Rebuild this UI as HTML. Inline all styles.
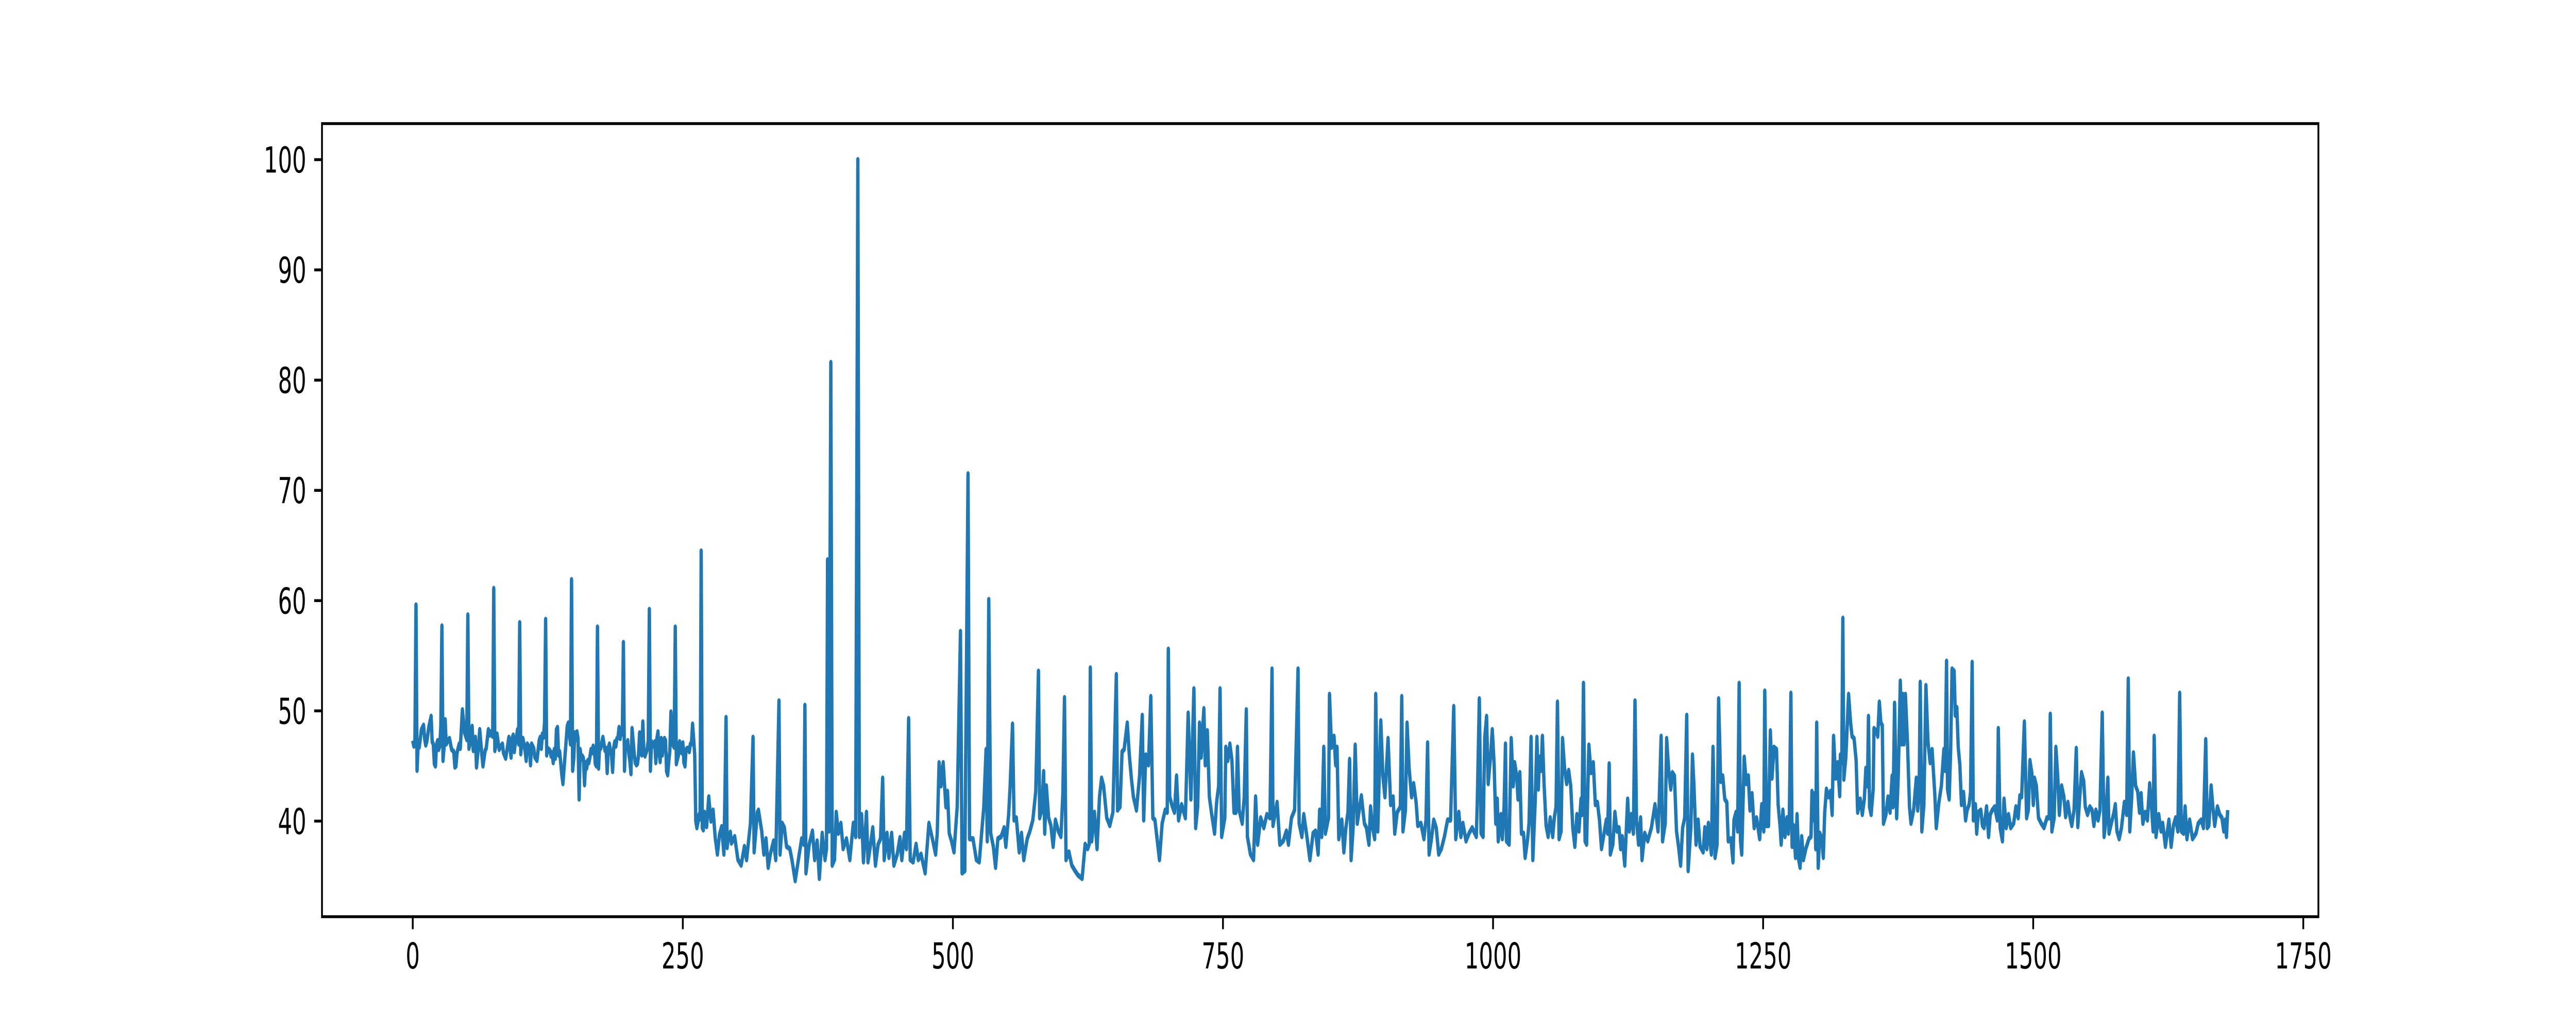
<!DOCTYPE html>
<html><head><meta charset="utf-8"><style>
html,body{margin:0;padding:0;background:#fff;overflow:hidden;width:100%;height:100%;}
svg{display:block;width:100vw;height:100vh;}
text{font-family:"DejaVu Sans","Liberation Sans",sans-serif;font-size:69.4px;fill:#000;}
</style></head>
<body>
<svg id="chart" viewBox="0 0 8000 2000" preserveAspectRatio="none" xmlns="http://www.w3.org/2000/svg">
<rect x="0" y="0" width="8000" height="2000" fill="#fff"/>
<g id="plot"></g>
<g id="xaxis"></g>
<g id="yaxis"></g>
<rect x="1000" y="240" width="6200" height="1540" fill="none" stroke="#000" stroke-width="5.56"/>
</svg>
<script>
const xTicks = [0,250,500,750,1000,1250,1500,1750];
const yTicks = [40,50,60,70,80,90,100];
const seriesX = [0,1,2,3,4,5,6,8,10,11,12,13,15,17,18,19,20,21,22,23,24,25,26,27,28,29,30,31,32,34,35,36,38,39,40,41,43,44,46,48,50,51,52,53,55,56,58,59,61,62,64,65,67,68,70,71,72,73,74,75,76,77,78,80,81,83,84,86,87,89,90,91,92,93,94,95,96,97,98,99,100,101,102,104,105,106,108,109,110,112,113,115,117,118,119,120,121,122,123,124,125,127,128,129,130,131,132,133,134,135,136,138,139,141,143,144,146,147,148,149,150,151,152,153,154,155,156,157,158,159,160,161,162,163,164,165,166,167,168,169,170,171,172,173,174,175,176,178,179,180,181,182,183,184,185,186,187,188,189,190,191,192,193,194,195,196,197,198,199,200,201,202,203,204,205,206,207,208,209,210,211,212,213,214,215,216,217,218,219,220,221,222,223,224,225,226,227,228,229,230,231,232,233,234,235,236,237,238,239,240,241,242,243,244,245,246,247,248,249,250,251,252,253,254,255,256,257,258,259,260,261,262,263,264,265,266,267,268,269,270,272,274,276,278,280,282,284,286,288,289,290,291,292,294,
295,298,301,304,307,309,312.6,315,316,319,320,323,325,327,329,331,334,336,339,340,342,344,346,349,351,354,357,360,362,363,364,367,370,372,374.3,376.4,379,381.6,383,384,385.4,387,388.3,390.4,392,394,396.3,398.4,401.5,404.6,407.8,410,412,413.4,415.5,417.2,420,421.4,423.5,425.8,428.3,430.8,433,435,436.4,439,440.8,443.3,445.4,448.5,451,452.7,455.2,457,459,460.5,463.2,465.9,468,470.5,474.3,477.8,481,484,485.5,487.2,489,491,493.5,495,496.6,498.7,501,504,507,508.5,511,514,515.4,518.6,521.7,524.4,527,528.6,530.7,531.8,533.2,535,537.4,539.5,541.6,544.7,547.4,549,551.6,553,555.2,556.6,558.7,561.4,563.5,565.6,568.8,571.3,574,576.7,579.2,580.3,582.3,584,585,586.5,588.6,590.7,592.8,594.9,597.6,600,601.8,603.3,604.7,607.4,610,613,615.8,619.6,622.4,624.7,626.2,627.2,628.5,631,633.4,635.7,637.6,639.5,642.4,645.2,648.1,651.3,652.4,654.7,656.6,658.5,661.4,663.3,665.2,667.1,669.9,672.8,675.3,676.6,678.5,681,683.2,685.1,687,689,691.2,693.7,696.5,698.4,699.4,700.7,703.2,705.1,707,708.9,711.7,715.2,717.8,720.3,723.1,724.7,726.6,728.3,729.8,732.3,733.6,735.5,737.4,739.3,742.2,744.1,746,747.3,748.8,751.7,752.6,754.5,756.4,758.3,760.2,762.1,763.4,765,767.8,769.7,771.6,772.6,775.4,778.3,780.2,782.1,784.9,787.8,790.6,793.5,795.4,796.3,800.1,802.6,805.8,808.7,810.6,813.4,816.3,819.5,820.5,823,824.8,827.7,830.5,833.4,835.7,838.1,839.5,841.4,843.3,844.8,847.7,848.6,850.5,852.8,854.3,855.6,857.2,860,861.9,863.8,865.7,867.2,868.6,870.5,872.4,874.3,878.1,880.9,882.8,885.1,886.6,888.5,890.4,891.4,893.3,896.1,898,
899.9,902.8,905.2,907.5,909,911.3,914.2,915.5,916.6,918.9,920.4,922.3,924.6,926.5,928.8,930.3,933.2,936,937.9,939.4,940.8,942.7,945.1,947.4,949.7,952.2,955,957.9,960.7,963.6,965.5,968.3,970.2,972.1,975,977.8,980.7,984.5,985.4,987.3,988.9,990.8,992.3,994,995.5,997.8,999.3,1001,1002.5,1003.9,1004.8,1007.3,1008.6,1010.2,1011.5,1012.4,1014.9,1016.8,1018.7,1020,1021.9,1023.1,1024.8,1026.3,1028.2,1029.7,1032,1033.3,1035.2,1036.8,1039,1040.6,1041.9,1043,1044.4,1045.7,1047.2,1049.1,1051,1052.9,1055.2,1056.7,1058.3,1059.6,1061.1,1063,1064.3,1066.2,1068.1,1070,1071.9,1073.8,1075.7,1077.6,1079.5,1081.4,1082.4,1083.7,1085.2,1086.6,1088.7,1090.6,1092.8,1094.7,1096.6,1098.5,1100.4,1102.3,1104.8,1106.1,1107.5,1108.6,1110.9,1112.8,1114.7,1116.6,1118.1,1119.6,1121.9,1124.6,1126.1,1128,1129.9,1131.4,1132.8,1134.7,1136.6,1137.9,1140.4,1143.2,1146.6,1149.9,1152.7,1153.7,1155.6,1156.9,1159.4,1160.7,1162.6,1164.5,1166,1167.9,1169.8,1171.7,1173.6,1175.5,1177.4,1179.3,1180.6,
1183.1,1184.6,1186,1187.9,1189.8,1191.7,1194.5,1196,1197.9,1199.3,1202.1,1203.6,1205.5,1207.4,1208.8,1210.7,1212.6,1214.5,1216.4,1217.7,1220.2,1222.1,1223,1224.9,1226.4,1227.8,1229.1,1230.2,1232.5,1234.4,1236.3,1237.8,1239.7,1241.7,1243.9,1246.8,1248.7,1250.6,1251.5,1253.1,1255,1256.7,1258.2,1260.1,1262.4,1263.9,1265.8,1266.7,1268.3,1270.2,1272.1,1273.4,1274.3,1275.7,1276.8,1278.1,1280,1281.4,1282.9,1284.2,1285.7,1287.3,1289.5,1292.4,1294.3,1295.2,1296.8,1297.7,1298.7,1299.6,1301,1302.5,1304.4,1305.7,1307,1308.6,1310.5,1312.4,1313.9,1315.2,1317.1,1319,1320.9,1321.5,1322.8,1323.8,1324.7,1326.6,1329.1,1331,1332.3,1334.2,1336.1,1337.5,1339.9,1341.8,1343.7,1345.1,1346.6,1347.5,1348.5,1350,1351.9,1352.6,1354.6,1356.1,1357.6,1359,1360.3,1361.4,1363.7,1365.6,1367.5,1369.4,1370.3,1371.7,1373.6,1375.1,1377,1378.3,1379.3,1380.4,1381.7,1383.6,1385.5,1386.9,1389.3,1391.8,1393.1,1394.5,1395.4,1396.9,1398.8,1400.7,1402.6,1404.6,1406.4,1408.9,1410.3,1412.7,1415,1417.3,1418.4,1419.8,1420.7,1422.2,1423.6,1424.9,1426.8,1427.9,1429.3,1430.6,1432.1,1433.6,1435.5,1437.4,1438.8,1440.7,1442,1443.5,1444.6,1446.5,1447.7,1449.2,1451.5,1453,1454.5,1456.8,1458.7,1460.2,1462.1,1464.4,
1466.7,1467.7,1469.4,1471.5,1473,1475,1477.1,1479.2,1481.9,1484,1486.1,1487.6,1489.3,1491.8,1493.9,1495.5,1497,1498.7,1500.1,1501.2,1502.9,1504.9,1507.4,1510,1512.7,1514.8,1515.8,1517.3,1519.4,1521,1522.7,1524.2,1526.3,1528.4,1530,1532.1,1534.2,1535.7,1537.8,1539.9,1541.3,1543,1544.7,1546.8,1548.2,1550.3,1552.4,1554.5,1556.2,1558,1560.1,1561.8,1563.9,1565.6,1567,1569.1,1570.2,1572.3,1574.8,1576,1577.5,1579.6,1581.7,1584.4,1586.5,1588,1589.4,1591.1,1592.8,1594.8,1596.7,1598.4,1599.9,1601.5,1603.6,1605.7,1607.8,1609.5,1611,1612,1613.7,1616.2,1618.3,1619.9,1622.4,1625.6,1627.7,1629.8,1631.8,1633.9,1635.6,1637.1,1639.2,1640.6,1642.3,1644.8,1647.5,1650.7,1652.8,1655.5,1657.6,1659.7,1661.1,1662.6,1664.7,1666.3,1668,1670.5,1672.6,1674.7,1676.4,1677.8,1678.9,1680];
const seriesY = [47.3,46.8,46.9,59.6,44.6,47.0,46.7,48.3,48.7,47.5,46.9,47.2,48.6,49.5,47.2,47.0,45.2,45.0,46.9,47.3,46.5,46.8,48.6,57.7,45.5,46.7,49.2,47.0,47.2,47.5,47.0,46.5,46.3,44.9,45.0,46.2,47.0,46.6,50.1,48.0,47.4,58.7,46.6,47.0,48.6,46.4,47.6,44.9,46.9,48.3,46.0,45.0,46.4,46.6,48.3,47.8,48.1,47.8,47.7,61.1,46.4,46.9,47.9,46.5,46.7,47.0,46.2,45.7,46.3,47.6,46.7,45.8,47.5,47.8,46.3,47.2,47.6,48.3,47.0,58.0,46.1,47.2,47.5,46.4,45.5,47.0,46.7,45.1,47.0,46.6,45.8,45.5,47.3,47.6,46.6,47.9,47.6,48.9,58.3,46.0,46.6,46.4,45.9,46.2,45.3,46.5,45.7,48.3,48.5,46.0,46.3,44.2,43.4,46.0,48.6,48.9,47.0,61.9,44.6,45.6,48.0,47.4,48.1,47.5,42.0,46.5,45.6,45.9,45.7,43.3,45.3,44.8,45.5,45.3,45.8,46.5,46.2,46.8,46.6,45.2,45.0,57.6,44.8,46.9,46.6,47.1,47.6,46.4,46.6,44.4,46.6,47.0,46.4,46.0,44.5,46.6,47.2,46.8,47.5,47.6,48.5,47.5,48.1,47.9,56.2,44.6,47.0,46.9,47.3,46.2,45.4,44.3,48.4,47.3,46.1,45.3,45.1,45.2,46.0,48.0,47.1,46.0,49.0,46.2,45.9,46.2,46.5,47.3,59.2,44.6,47.2,46.8,46.8,47.2,45.3,47.5,48.1,46.2,45.4,47.5,46.0,46.9,47.5,47.3,44.5,44.2,45.4,46.4,49.9,47.7,46.9,46.7,57.6,45.2,45.6,46.0,47.2,46.8,46.2,47.1,45.3,45.0,46.5,46.6,46.6,46.3,47.0,47.0,48.8,47.5,46.0,40.0,39.4,39.9,40.6,40.2,64.5,39.4,39.2,40.8,39.5,42.2,40.0,41.0,38.5,37.0,38.8,39.5,37.0,42.5,49.4,37.6,38.5,39.0,
38.0,38.6,36.5,36.0,37.7,36.5,39.8,47.6,37.2,40.8,41.0,39.1,37.0,38.4,35.8,37.0,38.2,36.5,50.9,37.0,39.8,39.4,37.7,37.5,36.5,34.6,36.5,38.4,37.9,50.5,35.3,37.9,39.1,36.5,38.2,34.8,38.9,36.5,37.5,63.7,39.1,81.6,36.0,36.5,40.8,38.9,39.8,37.5,38.4,36.5,39.8,38.6,100.0,38.6,40.6,36.3,40.8,36.3,37.7,39.4,36.0,37.9,38.4,43.9,36.5,38.9,36.7,38.9,36.0,37.0,38.5,36.5,38.9,37.5,49.3,36.5,36.3,37.9,36.5,37.0,35.3,39.8,38.4,37.0,38.9,45.3,43.2,45.3,41.3,42.7,38.9,38.2,37.2,41.3,57.2,35.3,35.5,71.5,38.4,38.4,36.5,36.3,39.4,41.3,46.5,38.2,60.1,38.9,37.7,35.8,38.4,38.6,39.4,37.7,40.6,43.2,48.8,40.1,40.3,37.2,38.9,36.5,38.4,39.1,40.1,42.7,53.6,40.3,41.0,44.5,38.9,43.2,40.3,39.6,37.7,40.1,39.1,38.6,42.5,51.2,36.5,37.2,36.0,35.5,35.1,34.8,37.9,37.5,37.9,53.9,38.2,40.8,37.5,42.2,43.9,43.2,40.3,39.6,40.8,53.3,41.0,41.3,46.3,46.5,48.9,46.0,43.9,42.2,41.0,44.1,49.6,40.1,46.0,45.1,51.3,40.3,40.1,38.4,36.5,39.8,41.0,40.8,55.6,42.2,41.3,40.8,44.1,40.1,41.5,40.3,49.8,42.0,52.0,39.4,41.3,48.9,45.8,50.2,45.1,48.2,42.2,40.8,38.9,41.7,43.2,52.0,38.6,40.3,46.7,45.5,47.0,45.5,40.8,40.8,46.7,41.0,39.8,42.2,50.1,38.6,37.0,36.5,42.2,37.9,40.3,39.4,40.6,40.3,53.8,39.6,41.7,37.9,38.2,39.1,37.9,40.3,41.0,53.8,39.8,38.6,40.6,38.6,36.5,38.9,39.1,37.0,41.0,38.6,46.7,38.9,40.3,51.5,46.7,47.7,45.1,46.7,38.4,40.1,37.2,39.4,40.8,45.6,36.5,39.4,46.9,39.8,42.3,39.8,39.4,37.9,41.3,39.4,38.4,51.5,39.1,49.1,44.1,
42.2,47.5,41.5,42.2,38.9,40.8,41.3,51.3,39.1,41.0,48.9,44.8,42.2,43.4,41.7,39.6,39.8,38.4,40.1,47.1,37.0,38.2,40.1,39.4,37.0,37.5,38.6,40.1,40.1,50.4,38.4,40.8,38.6,39.8,38.2,38.9,39.4,38.6,41.7,51.1,38.9,38.6,47.6,49.5,43.4,46.0,48.3,45.1,39.8,42.0,38.2,40.6,38.4,41.3,47.0,38.2,37.9,47.5,43.2,45.3,44.1,42.0,44.4,38.9,38.9,36.7,38.4,39.8,47.6,36.5,41.7,47.6,42.9,45.8,44.6,47.7,43.4,39.6,38.6,40.3,38.6,40.3,41.3,50.8,38.4,39.1,47.5,44.8,43.4,44.6,43.2,39.4,37.7,40.6,39.1,42.0,40.6,52.5,38.2,37.9,46.9,44.4,45.3,41.5,41.7,40.1,37.5,38.6,40.1,38.9,45.2,37.0,37.9,40.8,39.1,39.4,37.5,38.6,36.0,42.0,39.1,40.6,38.9,50.9,40.1,37.9,40.3,36.5,38.9,38.2,39.4,41.5,39.1,41.5,47.7,38.2,39.8,47.5,44.6,42.9,44.4,44.1,39.1,37.7,36.0,39.4,40.3,49.6,35.5,
39.4,46.0,43.2,37.9,40.1,37.7,37.2,39.4,37.5,39.8,37.0,46.7,36.7,37.9,51.1,43.6,44.1,42.0,41.7,38.2,38.4,36.3,40.1,40.8,39.1,52.5,38.2,37.0,45.8,43.4,44.1,41.0,42.5,39.4,40.3,38.4,41.5,39.1,51.8,39.6,39.6,48.2,43.9,46.7,46.5,41.5,39.4,37.9,41.0,38.6,40.3,38.9,40.8,51.6,37.7,39.6,36.7,40.6,36.5,35.8,38.6,36.5,37.5,38.4,38.6,42.7,40.1,42.5,37.5,48.9,35.8,38.9,38.4,36.7,40.8,42.9,42.2,42.7,40.6,47.7,43.9,45.3,42.3,46.0,45.3,58.4,43.8,45.8,51.5,48.9,47.7,47.5,45.5,40.8,42.0,40.6,42.0,44.8,43.2,49.5,41.3,40.6,42.9,48.4,48.2,47.7,50.8,48.9,48.7,39.8,40.6,42.2,40.8,44.1,41.3,50.7,40.3,44.1,52.7,47.0,51.5,47.0,51.5,47.2,41.3,39.8,41.0,43.9,41.0,43.2,52.6,39.1,41.5,52.3,47.2,45.3,46.5,42.5,39.4,41.7,43.2,46.5,44.6,54.5,42.9,42.0,46.5,53.8,53.6,49.6,50.3,46.7,45.1,41.5,42.6,40.1,41.0,41.5,42.6,54.4,40.1,41.5,38.9,40.8,41.0,39.6,39.4,41.3,38.6,40.6,41.0,41.3,
40.1,48.4,39.4,38.2,42.0,39.4,40.6,39.4,39.8,41.3,40.3,42.3,42.2,49.0,40.3,41.0,45.5,44.4,41.5,43.9,43.2,40.3,39.8,39.4,40.3,40.3,49.7,39.1,40.3,46.7,44.1,40.6,43.2,42.2,40.4,41.7,40.3,39.6,41.0,46.6,39.5,42.0,44.4,43.6,41.3,40.6,41.3,41.0,39.6,41.0,40.1,41.0,49.8,38.6,39.8,43.9,38.9,39.8,40.8,41.5,39.1,38.4,39.4,41.7,40.6,52.9,39.1,42.0,46.2,43.2,42.7,40.8,42.5,39.8,40.8,40.1,43.4,41.3,39.1,47.7,38.6,40.6,39.1,39.8,37.7,40.1,37.7,39.6,40.3,39.1,51.6,39.1,38.9,41.3,38.4,40.1,38.4,38.9,39.8,40.1,39.4,47.4,39.4,39.6,43.2,41.3,39.6,41.3,40.6,40.3,39.1,40.1,38.6,41.0];

const X0 = 1000, X1 = 7200, Y0 = 1780, Y1 = 240;
const xMin = -84, xMax = 1764, yMin = 31.33, yMax = 103.27;
function sx(v){ return X0 + (v - xMin) / (xMax - xMin) * (X1 - X0); }
function sy(v){ return Y0 - (v - yMin) / (yMax - yMin) * (Y0 - Y1); }
const NS = 'http://www.w3.org/2000/svg';
const plot = document.getElementById('plot');
const n = Math.min(seriesX.length, seriesY.length);
let d = '';
for (let i = 0; i < n; i++) {
  d += (i ? 'L' : 'M') + sx(seriesX[i]).toFixed(1) + ' ' + sy(seriesY[i]).toFixed(1);
}
const path = document.createElementNS(NS, 'path');
path.setAttribute('d', d);
path.setAttribute('fill', 'none');
path.setAttribute('stroke', '#1f77b4');
path.setAttribute('stroke-width', '10.4');
path.setAttribute('stroke-linejoin', 'round');


plot.appendChild(path);

const xa = document.getElementById('xaxis');
xTicks.forEach(t => {
  const x = sx(t);
  const ln = document.createElementNS(NS, 'line');
  ln.setAttribute('x1', x); ln.setAttribute('x2', x);
  ln.setAttribute('y1', Y0); ln.setAttribute('y2', Y0 + 24.3);
  ln.setAttribute('stroke', '#000'); ln.setAttribute('stroke-width', '5.56');
  
  
  xa.appendChild(ln);
  const tx = document.createElementNS(NS, 'text');
  tx.setAttribute('x', x); tx.setAttribute('y', Y0 + 48.6 + 52);
  tx.setAttribute('text-anchor', 'middle');
  tx.textContent = String(t);
  
  
  xa.appendChild(tx);
});
const ya = document.getElementById('yaxis');
yTicks.forEach(t => {
  const y = sy(t);
  const ln = document.createElementNS(NS, 'line');
  ln.setAttribute('x1', X0 - 24.3); ln.setAttribute('x2', X0);
  ln.setAttribute('y1', y); ln.setAttribute('y2', y);
  ln.setAttribute('stroke', '#000'); ln.setAttribute('stroke-width', '5.56');
  
  
  ya.appendChild(ln);
  const tx = document.createElementNS(NS, 'text');
  tx.setAttribute('x', X0 - 48.6); tx.setAttribute('y', y + 25);
  tx.setAttribute('text-anchor', 'end');
  tx.textContent = String(t);
  
  
  ya.appendChild(tx);
});
</script>
</body></html>
